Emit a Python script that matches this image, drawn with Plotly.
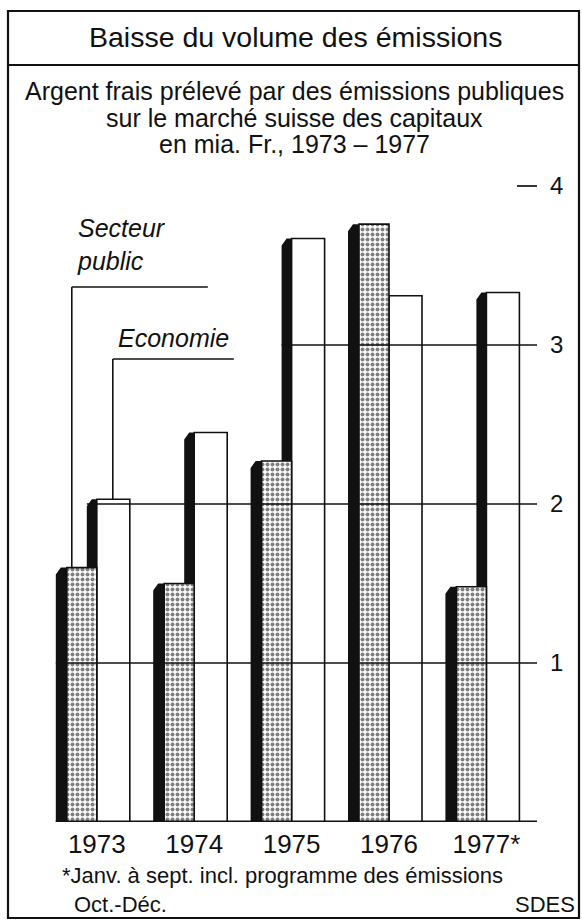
import plotly.graph_objects as go

# ---------------- data ----------------
years = ["1973", "1974", "1975", "1976", "1977*"]
secteur_public = [1.60, 1.50, 2.27, 3.76, 1.48]   # mia. Fr.
economie = [2.03, 2.45, 3.67, 3.31, 3.33]         # mia. Fr.
y_ticks = [1, 2, 3, 4]
y_tick_labels = ["1", "2", "3", "4"]

title_text = "Baisse du volume des émissions"
subtitle_lines = [
    "Argent frais prélevé par des émissions publiques",
    "sur le marché suisse des capitaux",
    "en mia. Fr., 1973 – 1977",
]
legend_public = "Secteur<br>public"
legend_economie = "Economie"
footnote_lines = ["*Janv. à sept. incl. programme des émissions", "Oct.-Déc."]
source_text = "SDES"

# ---------------- geometry (pixels) ----------------
W, H = 582, 922
M_L, M_R, M_T, M_B = 0, 45, 107, 100
PLOT_W = W - M_L - M_R
PLOT_H = H - M_T - M_B
X0_PX, X_UNIT = 96.8, 97.4       # pixel of group 0 centre, pixels per group
Y0_PX, Y_UNIT = H - M_B, 159.0   # pixel of value 0, pixels per unit


def dx(px):      # pixel width -> x data units
    return px / X_UNIT


def dy(px):      # pixel height -> y data units
    return px / Y_UNIT


def xp(px):      # absolute pixel -> paper x
    return (px - M_L) / PLOT_W


def yp(py):      # absolute pixel -> paper y
    return (Y0_PX - py) / PLOT_H


x_range = [(M_L - X0_PX) / X_UNIT, (M_L + PLOT_W - X0_PX) / X_UNIT]
y_range = [0, PLOT_H / Y_UNIT]

FONT = "Liberation Sans, Arial, sans-serif"
INK = "#111111"

idx = list(range(len(years)))

# face geometry (relative to group centre)
PUB_FACE = (-30, 0)
ECO_FACE = (0, 33)
PUB_SIDE = (-41, -30)
ECO_SIDE = (-10, 0)
SIDE_DROP = 7
SIDE_SLANT = 5

fig = go.Figure()

# Economie faces (white)
fig.add_trace(go.Bar(
    x=idx, y=economie, offset=dx(ECO_FACE[0]), width=dx(ECO_FACE[1] - ECO_FACE[0]),
    marker=dict(color="white", line=dict(color=INK, width=1.6)),
    name="Economie", hoverinfo="skip",
))
# Secteur public faces (dotted)
fig.add_trace(go.Bar(
    x=idx, y=secteur_public, offset=dx(PUB_FACE[0]), width=dx(PUB_FACE[1] - PUB_FACE[0]),
    marker=dict(color="white", line=dict(color=INK, width=1.6),
                pattern=dict(shape=".", fgcolor="#000000", bgcolor="white", size=5, solidity=0.5)),
    name="Secteur public", hoverinfo="skip",
))


def side_polygons(values, lows, side):
    xs, ys = [], []
    for i, (v, lo) in enumerate(zip(values, lows)):
        if v <= lo:
            continue
        L = i + dx(side[0])
        R = i + dx(side[1])
        xs += [L, L, L + dx(SIDE_SLANT), R, R, L, None]
        ys += [lo, v - dy(SIDE_DROP), v, v, lo, lo, None]
    return xs, ys


px_, py_ = side_polygons(secteur_public, [0] * len(years), PUB_SIDE)
ex_, ey_ = side_polygons(economie, secteur_public, ECO_SIDE)
for xs, ys in ((px_, py_), (ex_, ey_)):
    fig.add_trace(go.Scatter(x=xs, y=ys, mode="none", fill="toself",
                             fillcolor=INK, hoverinfo="skip", showlegend=False))

shapes = []
# partial gridlines: start at first bar reaching that level
bars_in_order = []
for i in idx:
    bars_in_order.append((i + dx(PUB_SIDE[0]), secteur_public[i]))
    bars_in_order.append((i + dx(ECO_SIDE[0]), economie[i]))
for t in y_ticks:
    start = next((xl for xl, v in bars_in_order if v >= t), x_range[1] - dx(20))
    shapes.append(dict(type="line", xref="x", yref="y", x0=start, x1=x_range[1],
                       y0=t, y1=t, line=dict(color=INK, width=1.7), layer="above"))
# baseline
shapes.append(dict(type="line", xref="x", yref="y", x0=dx(PUB_SIDE[0]), x1=x_range[1] + dx(1),
                   y0=0, y1=0, line=dict(color=INK, width=3), layer="above"))

# legend leader lines
lead_pub_x = dx(-25)
lead_pub_y = (Y0_PX - 287) / Y_UNIT
lead_eco_x = dx(16)
lead_eco_y = (Y0_PX - 359) / Y_UNIT
shapes += [
    dict(type="line", xref="x", yref="y", x0=lead_pub_x, x1=lead_pub_x,
         y0=secteur_public[0], y1=lead_pub_y, line=dict(color=INK, width=1.6), layer="above"),
    dict(type="line", xref="x", yref="y", x0=lead_pub_x, x1=lead_pub_x + dx(136),
         y0=lead_pub_y, y1=lead_pub_y, line=dict(color=INK, width=1.6), layer="above"),
    dict(type="line", xref="x", yref="y", x0=lead_eco_x, x1=lead_eco_x,
         y0=economie[0], y1=lead_eco_y, line=dict(color=INK, width=1.6), layer="above"),
    dict(type="line", xref="x", yref="y", x0=lead_eco_x, x1=lead_eco_x + dx(121),
         y0=lead_eco_y, y1=lead_eco_y, line=dict(color=INK, width=1.6), layer="above"),
]

# frame and title box
shapes += [
    dict(type="rect", xref="paper", yref="paper", x0=xp(8), x1=xp(579), y0=yp(918), y1=yp(11),
         line=dict(color=INK, width=2.2)),
    dict(type="line", xref="paper", yref="paper", x0=xp(8), x1=xp(579), y0=yp(65), y1=yp(65),
         line=dict(color=INK, width=2.2)),
]

annotations = []
annotations.append(dict(text=title_text, xref="paper", yref="paper", x=xp(295), y=yp(37),
                        xanchor="center", yanchor="middle", showarrow=False,
                        font=dict(family=FONT, size=28.5, color=INK)))
for line, cy in zip(subtitle_lines, [91, 118, 144]):
    annotations.append(dict(text=line, xref="paper", yref="paper", x=xp(294), y=yp(cy),
                            xanchor="center", yanchor="middle", showarrow=False,
                            font=dict(family=FONT, size=25, color=INK)))
annotations.append(dict(text="<i>" + legend_public + "</i>", xref="paper", yref="paper",
                        x=xp(75), y=yp(244), xanchor="left", yanchor="middle", align="left",
                        showarrow=False, font=dict(family=FONT, size=25, color=INK)))
annotations.append(dict(text="<i>" + legend_economie + "</i>", xref="paper", yref="paper",
                        x=xp(116), y=yp(338), xanchor="left", yanchor="middle",
                        showarrow=False, font=dict(family=FONT, size=25, color=INK)))
for line, (lx, cy) in zip(footnote_lines, [(60, 875), (72, 904)]):
    annotations.append(dict(text=line, xref="paper", yref="paper", x=xp(lx), y=yp(cy),
                            xanchor="left", yanchor="middle", showarrow=False,
                            font=dict(family=FONT, size=22, color=INK)))
annotations.append(dict(text=source_text, xref="paper", yref="paper", x=xp(577), y=yp(904),
                        xanchor="right", yanchor="middle", showarrow=False,
                        font=dict(family=FONT, size=22, color=INK)))

fig.update_layout(
    width=W, height=H,
    margin=dict(l=M_L, r=M_R, t=M_T, b=M_B, pad=0),
    paper_bgcolor="white", plot_bgcolor="white",
    barmode="overlay", showlegend=False,
    shapes=shapes, annotations=annotations,
    xaxis=dict(range=x_range, tickmode="array", tickvals=idx, ticktext=years,
               showgrid=False, zeroline=False, showline=False, ticks="",
               ticklabelstandoff=4,
               tickfont=dict(family=FONT, size=26, color=INK), fixedrange=True),
    yaxis=dict(range=y_range, side="right", tickmode="array", tickvals=y_ticks,
               ticktext=y_tick_labels, showgrid=False, zeroline=False, showline=False,
               ticks="", ticklabelstandoff=12,
               tickfont=dict(family=FONT, size=24, color=INK), fixedrange=True),
)

fig.write_html(
    "out.html",
    config={"displayModeBar": False},
    post_script="document.body.style.margin='0px';document.body.style.overflow='hidden';",
)
